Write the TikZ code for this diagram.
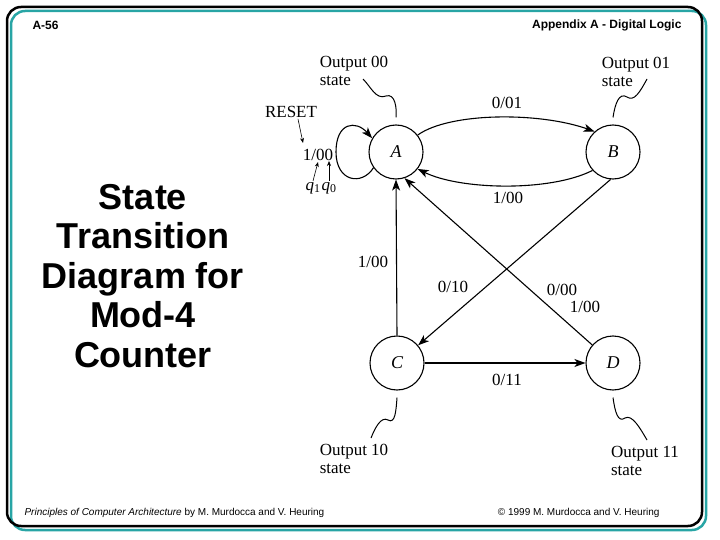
\documentclass[tikz,border=0pt]{standalone}
\usepackage{fontspec}
\setmainfont{Liberation Serif}
\newfontfamily\slidefont{Liberation Sans}
\usetikzlibrary{arrows.meta}
\definecolor{slideteal}{RGB}{40,165,165}

\begin{document}
\begin{tikzpicture}[
    x=1pt, y=-1pt,
    state/.style={draw, circle, line width=1.1pt, minimum size=54pt, inner sep=0pt,
      font=\fontsize{18}{18}\selectfont\itshape},
    lbl/.style={font=\fontsize{17}{18}\selectfont, inner sep=1pt},
    note/.style={align=left, font=\fontsize{17}{18}\selectfont, inner sep=0pt},
    arr/.style={-{Stealth[length=11pt, width=8pt, inset=3pt]}, line width=1.1pt},
    tip/.style={-{Stealth[length=5pt, width=4pt]}, line width=0.6pt},
    wave/.style={line width=1pt}
  ]
  \useasboundingbox (0,0) rectangle (720,540);
  % slide frame
  \draw[slideteal, line width=2.5pt, rounded corners=14pt] (11,11) rectangle (706,530);
  \draw[line width=2.5pt, rounded corners=14pt] (7,7) rectangle (702,526);
  \node[font=\slidefont\bfseries\fontsize{12}{14}\selectfont, anchor=west] (page) at (29,25) {A-56};
  \node[font=\slidefont\bfseries\fontsize{12}{14}\selectfont, anchor=east] (chap) at (685,25) {Appendix A - Digital Logic};
  \node[font=\slidefont\bfseries\fontsize{36}{39.5}\selectfont, align=center] (title) at (143,276)
    {State\\Transition\\Diagram for\\Mod-4\\Counter};
  \node[font=\slidefont\fontsize{10}{12}\selectfont, anchor=west] (book) at (21,513)
    {\textit{Principles of Computer Architecture} by M. Murdocca and V. Heuring};
  \node[font=\slidefont\fontsize{10}{12}\selectfont, anchor=east] (copy) at (663,513)
    {© 1999 M. Murdocca and V. Heuring};

  % states
  \node[state] (A) at (396,152) {A};
  \node[state] (B) at (613,152) {B};
  \node[state] (C) at (397,363) {C};
  \node[state] (D) at (613,363) {D};

  % transitions
  \draw[arr] (A.38) .. controls (450,112) and (540,112) .. (B.132);
  \draw[arr] (B.222) .. controls (550,192) and (460,190) .. (A.322);
  \draw[arr] (C.north) -- (A.south);
  \draw[arr] (B.265) -- (C.40);
  \draw[arr] (D.139) -- (A.288);
  \draw[arr] (C.east) -- (D.west);
  \draw[arr] (A.215) .. controls (362,186) and (336,182) .. (336,152)
    .. controls (336,122) and (356,120) .. (A.150);
  \node[lbl] (lAB) at (507,103) {0/01};
  \node[lbl] (lBA) at (508,198) {1/00};
  \node[lbl] (lCA) at (373,262) {1/00};
  \node[lbl] (lBC) at (453,287) {0/10};
  \node[lbl] (lDA) at (562,290) {0/00};
  \node[lbl] (lDAr) at (585,307) {1/00};
  \node[lbl] (lCD) at (507,380) {0/11};
  \node[lbl] (lAA) at (318,155) {1/00};

  % reset and output bits
  \node[lbl] (reset) at (291,112) {RESET};
  \node[lbl, font=\fontsize{17}{18}\selectfont\itshape] (q1) at (313,188) {q\textsubscript{\upshape 1}};
  \node[lbl, font=\fontsize{17}{18}\selectfont\itshape] (q0) at (329,188) {q\textsubscript{\upshape 0}};
  \coordinate (rs) at (303,143);
  \coordinate (b1) at (318,162);
  \coordinate (b0) at (329,161);
  \draw[tip] ([xshift=7pt]reset.south) -- (rs);
  \draw[tip] (q1.north) -- (b1);
  \draw[tip] (q0.north) -- (b0);

  % output annotations
  \node[note] (o00) at (354,71) {Output 00\\state};
  \node[note] (o01) at (636,72) {Output 01\\state};
  \node[note] (o10) at (354,459) {Output 10\\state};
  \node[note] (o11) at (645,461) {Output 11\\state};
  \coordinate (w00) at (363,79);
  \coordinate (w01) at (647,79);
  \coordinate (w10) at (371,438);
  \coordinate (w11) at (647,440);
  \draw[wave] (w00) .. controls (371,87) and (376,100) .. (386,96)
    .. controls (395,93) and (397,108) .. ([yshift=7pt]A.north);
  \draw[wave] (w01) .. controls (640,92) and (634,102) .. (627,97)
    .. controls (619,92) and (615,104) .. ([yshift=7pt]B.north);
  \draw[wave] ([yshift=-7pt]C.south) .. controls (396,412) and (395,424) .. (388,420)
    .. controls (381,416) and (375,428) .. (w10);
  \draw[wave] ([yshift=-7pt]D.south) .. controls (615,412) and (618,423) .. (625,418)
    .. controls (632,414) and (640,428) .. (w11);
\end{tikzpicture}
\end{document}
